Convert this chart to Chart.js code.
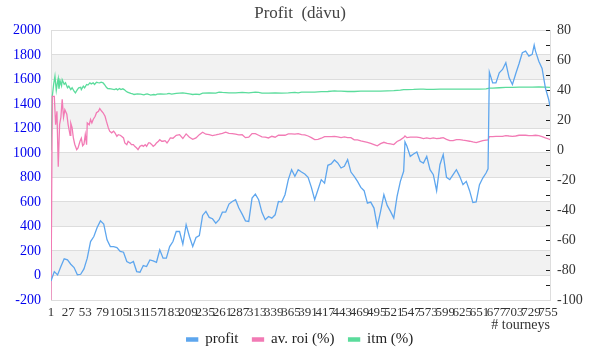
<!DOCTYPE html>
<html>
<head>
<meta charset="utf-8">
<script src="https://cdn.jsdelivr.net/npm/chart.js@4/dist/chart.umd.min.js"></script>
<style>
    html, body { margin: 0; padding: 0; background: #ffffff; }
    #chart_box { width: 600px; height: 360px; }
</style>
</head>
<body>
<div id="chart_box"><canvas id="profit_chart"></canvas></div>
<script>

// Tourney numbers shown on the x axis
const x_tick_labels = [1, 27, 53, 79, 105, 131, 157, 183, 209, 235, 261, 287, 313, 339, 365,
                       391, 417, 443, 469, 495, 521, 547, 573, 599, 625, 651, 677, 703, 729, 755];

// profit (left axis)
const profit_x = [1, 6, 11, 16, 21, 26, 31, 36, 41, 46, 51, 56, 61, 66, 71, 76, 81, 86, 91, 96,
                  101, 106, 111, 116, 121, 126, 131, 136, 141, 146, 151, 156, 161, 166, 171, 176, 181, 186, 191, 196,
                  201, 206, 211, 216, 221, 226, 231, 236, 241, 246, 251, 256, 261, 266, 271, 276, 281, 286, 291, 296,
                  301, 306, 311, 316, 321, 326, 331, 336, 341, 346, 351, 356, 361, 366, 371, 376, 381, 386, 391, 396,
                  401, 406, 411, 416, 421, 426, 431, 436, 441, 446, 451, 456, 461, 466, 471, 476, 481, 486, 491, 496,
                  501, 506, 511, 516, 521, 526, 531, 536, 538, 541, 546, 551, 556, 561, 566, 571, 576, 581, 586, 591,
                  596, 601, 606, 611, 616, 621, 626, 631, 636, 641, 646, 651, 656, 661, 664, 666, 671, 676, 681, 686,
                  691, 696, 701, 706, 711, 716, 721, 726, 731, 734, 736, 741, 746, 751, 756, 758];
const profit_y = [-45, 32, 5, 73, 136, 127, 92, 65, 5, 10, 54, 141, 277, 318, 392, 446, 419, 291, 236, 236,
                  228, 196, 190, 114, 100, 114, 32, 27, 81, 73, 127, 119, 108, 209, 141, 141, 236, 277, 359, 359,
                  255, 414, 318, 236, 310, 326, 490, 523, 474, 463, 427, 455, 517, 517, 583, 604, 618, 550, 501, 446,
                  441, 632, 664, 618, 515, 455, 482, 468, 495, 604, 599, 659, 782, 863, 809, 863, 844, 828, 801, 719,
                  618, 700, 782, 754, 899, 910, 942, 918, 877, 891, 945, 844, 809, 768, 719, 692, 591, 599, 550, 400,
                  523, 659, 572, 523, 468, 645, 768, 850, 1090, 1054, 972, 991, 1008, 932, 918, 972, 863, 823, 692, 904,
                  986, 801, 782, 823, 863, 809, 741, 768, 692, 595, 600, 741, 795, 836, 870, 1660, 1572, 1572, 1654, 1681,
                  1736, 1613, 1559, 1646, 1728, 1818, 1831, 1790, 1804, 1880, 1831, 1749, 1689, 1531, 1436, 1381];

// av. roi (%) (right axis)
const roi_x = [1, 3, 6, 8, 10, 12, 14, 16, 18, 20, 22, 25, 27, 30, 31, 33, 35, 37, 40, 42,
               45, 47, 49, 51, 53, 55, 56, 59, 61, 63, 65, 68, 70, 73, 75, 78, 80, 83, 85, 88,
               90, 93, 96, 98, 101, 103, 106, 108, 111, 113, 116, 118, 121, 123, 126, 128, 131, 133, 136, 139,
               141, 144, 146, 149, 151, 154, 156, 159, 161, 164, 166, 169, 171, 174, 177, 179, 182, 186, 191, 196,
               201, 206, 211, 216, 221, 226, 231, 236, 241, 246, 251, 256, 261, 266, 271, 276, 281, 286, 291, 296,
               301, 306, 311, 316, 321, 326, 331, 336, 341, 346, 351, 356, 361, 366, 371, 376, 381, 386, 391, 396,
               401, 406, 411, 416, 421, 426, 431, 436, 441, 446, 451, 456, 461, 466, 471, 476, 481, 486, 491, 496,
               501, 506, 511, 516, 521, 526, 531, 536, 538, 541, 546, 551, 556, 561, 566, 571, 576, 581, 586, 591,
               596, 601, 606, 611, 616, 621, 626, 631, 636, 641, 646, 651, 656, 661, 664, 666, 671, 676, 681, 686,
               691, 696, 701, 706, 711, 716, 721, 726, 731, 736, 741, 746, 751, 756, 758];
const roi_y = [-100, 36, 36, 17, 26, -11, 17, 22, 34, 22, 27, 24, 17, 10, 18, 15, 8, 4, 0.4, 1.5,
               6, 8, 3, 4, 10.4, 3.7, 18.2, 17, 20.5, 18.2, 20.5, 22.7, 25, 26, 27.8, 26, 25, 22.7, 19.4, 14.9,
               12.7, 11.6, 12.7, 11.6, 9.3, 10.4, 10, 9.3, 8.2, 4.9, 3.7, 6, 4.9, 3.7, 3.7, 2.6, 1.5, 0.4, 2.6, 3.3,
               2.6, 3.7, 2.6, 4.9, 4.9, 3.7, 2.6, 3.7, 4.9, 6, 7, 6, 6, 6.4, 4.9, 6, 8.2, 8, 10, 10.4,
               7.8, 10.9, 8.7, 7.3, 8.2, 10.4, 12, 10.7, 10.4, 9.8, 10.2, 10.7, 11.3, 12, 11.3, 11.1, 10.7, 10.2, 10.4, 8.4,
               8.7, 11.1, 11.1, 10, 8.9, 8.7, 8.2, 9.3, 8.7, 10, 10, 10, 10.9, 10.9, 10.7, 11.1, 10.4, 10.2, 9.5, 8.4,
               7.1, 7.3, 8, 9.1, 9.1, 9.1, 9.3, 8.9, 8.4, 8.9, 8.4, 8.4, 6.9, 6.9, 6.2, 5.8, 5.3, 4.6, 3.8, 2.9,
               4.4, 5.3, 4.6, 4.2, 3.8, 5.8, 6.9, 8.4, 9.5, 8.4, 8.7, 8.7, 8.7, 8.4, 7.8, 8.2, 7.8, 8.2, 7.8, 8,
               8.4, 7.3, 6.4, 6.4, 7.1, 7.1, 6.7, 6.4, 6, 5.5, 5.1, 5.8, 6.4, 6.7, 6.9, 9.1, 9.1, 9.3, 9.3, 9.3,
               9.8, 9.5, 9.3, 9.5, 10, 10, 10, 9.8, 9.8, 10, 9.8, 9.1, 8.2, 7.5, 7.1];

// itm (%) (right axis)
const itm_x = [1, 3, 5, 7, 9, 11, 12, 13, 15, 17, 18, 21, 23, 26, 28, 31, 33, 36, 38, 41,
               43, 46, 47, 50, 52, 55, 57, 60, 62, 65, 67, 70, 72, 75, 77, 80, 82, 85, 87, 92,
               97, 100, 102, 105, 107, 110, 112, 115, 117, 120, 122, 125, 127, 132, 137, 142, 145, 147, 150, 152,
               157, 160, 162, 167, 172, 177, 180, 184, 191, 201, 211, 216, 221, 226, 231, 241, 251, 256, 261, 271,
               281, 291, 301, 311, 316, 321, 331, 341, 351, 361, 371, 376, 381, 391, 401, 411, 421, 431, 436, 441,
               451, 461, 471, 481, 491, 501, 511, 521, 531, 536, 541, 551, 561, 566, 571, 581, 591, 601, 611, 621,
               631, 641, 651, 661, 666, 671, 681, 691, 701, 711, 721, 731, 741, 751, 758];
const itm_y = [0, 36, 44, 49.5, 40, 46, 48, 41, 46, 43, 47, 44, 45, 41.7, 42.8, 40.5, 41.7, 39.4, 38.3, 40.5,
               41.7, 42, 40.5, 42.8, 41.7, 43.9, 43.5, 45, 44.3, 45, 43.9, 45.4, 45.2, 45, 45.4, 45, 43.9, 42, 41.2, 41,
               40.5, 41, 40.3, 41.2, 40.5, 41, 40.5, 39.4, 38.8, 38.3, 37.9, 37.6, 37.2, 37.6, 37.4, 37, 37.4, 37.6, 37.2, 36.8,
               37.2, 37, 37.4, 37.6, 37.4, 37.6, 37.9, 37.4, 37.9, 38.3, 37.6, 37.2, 37.4, 37.2, 38.1, 38.3, 38.1, 38.8, 38.6, 38.3,
               38.3, 38.6, 38.3, 38.8, 38.6, 38.1, 38.1, 38.3, 38.1, 38.3, 38.6, 38.3, 38.8, 38.8, 38.8, 39.1, 39.2, 39.6, 39.4, 39.4,
               39.2, 39.2, 39.4, 39.4, 39.4, 39.4, 39.6, 39.8, 40.1, 40.5, 40.5, 40.6, 40.8, 40.8, 40.6, 40.6, 40.8, 40.8, 40.8, 40.8,
               40.8, 40.8, 40.8, 41, 41.4, 41.5, 41.7, 41.9, 42, 42.1, 42.1, 42.1, 42.2, 42.1, 42];

const serif_font = "'Liberation Serif', 'DejaVu Serif', serif";

function toPoints(xs, ys) {
    return xs.map((x, i) => ({x: x, y: ys[i]}));
}

// Light grey bands between every other grid line of the left axis
const bands_plugin = {
    id: 'bands',
    beforeDraw(chart) {
        const scale = chart.scales.y;
        const area = chart.chartArea;
        const ctx = chart.ctx;
        ctx.save();
        ctx.fillStyle = '#f2f2f2';
        scale.ticks.forEach((tick, i) => {
            if (i % 2 === 1 && i + 1 < scale.ticks.length) {
                const top = scale.getPixelForValue(scale.ticks[i + 1].value);
                const bottom = scale.getPixelForValue(tick.value);
                ctx.fillRect(area.left, top, area.right - area.left, bottom - top);
            }
        });
        ctx.restore();
    }
};

const chart = new Chart('profit_chart', {
    type: 'line',
    data: {
        datasets: [
            {
                label: 'profit',
                data: toPoints(profit_x, profit_y),
                yAxisID: 'y',
                borderColor: '#5ea6ee',
                backgroundColor: '#5ea6ee',
                borderWidth: 1.3,
                pointRadius: 0,
                tension: 0
            },
            {
                label: 'av. roi (%)',
                data: toPoints(roi_x, roi_y),
                yAxisID: 'y1',
                borderColor: '#f27bb5',
                backgroundColor: '#f27bb5',
                borderWidth: 1.3,
                pointRadius: 0,
                tension: 0
            },
            {
                label: 'itm (%)',
                data: toPoints(itm_x, itm_y),
                yAxisID: 'y1',
                borderColor: '#5bdc9c',
                backgroundColor: '#5bdc9c',
                borderWidth: 1.3,
                pointRadius: 0,
                tension: 0
            }
        ]
    },
    options: {
        responsive: true,
        maintainAspectRatio: false,
        animation: false,
        layout: {padding: {left: 0, right: 0, top: 0, bottom: 3}},
        plugins: {
            title: {
                display: true,
                text: 'Profit  (dävu)',
                color: '#444444',
                font: {family: serif_font, size: 17, weight: 'normal'},
                padding: {top: 3, bottom: 7}
            },
            legend: {
                position: 'bottom',
                labels: {
                    color: '#222222',
                    font: {family: serif_font, size: 15},
                    boxWidth: 11,
                    boxHeight: 3,
                    padding: 14
                }
            },
            tooltip: {enabled: false}
        },
        scales: {
            x: {
                type: 'linear',
                min: 1,
                max: 758,
                afterBuildTicks: (axis) => { axis.ticks = x_tick_labels.map(v => ({value: v})); },
                afterFit: (scale) => { scale.height = 18; },
                ticks: {
                    autoSkip: false,
                    maxRotation: 0,
                    minRotation: 0,
                    color: '#333333',
                    font: {family: serif_font, size: 13},
                    padding: 5
                },
                grid: {drawOnChartArea: false, drawTicks: false},
                border: {color: '#dddddd'},
                title: {
                    display: true,
                    text: '# tourneys',
                    align: 'end',
                    color: '#333333',
                    font: {family: serif_font, size: 14},
                    padding: {top: 0, bottom: -16}
                }
            },
            y: {
                position: 'left',
                min: -200,
                max: 2000,
                afterFit: (scale) => { scale.width = 51; },
                ticks: {
                    stepSize: 200,
                    color: '#0000ee',
                    font: {family: serif_font, size: 14},
                    padding: 10,
                    callback: (value) => String(value)
                },
                grid: {color: '#dddddd', drawTicks: false},
                border: {color: '#dddddd'}
            },
            y1: {
                position: 'right',
                min: -100,
                max: 80,
                afterFit: (scale) => { scale.width = 50; },
                ticks: {
                    stepSize: 10,
                    autoSkip: false,
                    color: '#333333',
                    font: {family: serif_font, size: 14},
                    padding: 11,
                    callback: (value) => (value % 20 === 0 ? String(value) : '')
                },
                grid: {drawOnChartArea: false, tickLength: -4, tickColor: '#222222'},
                border: {color: '#dddddd'}
            }
        }
    },
    plugins: [bands_plugin]
});

</script>
</body>
</html>
